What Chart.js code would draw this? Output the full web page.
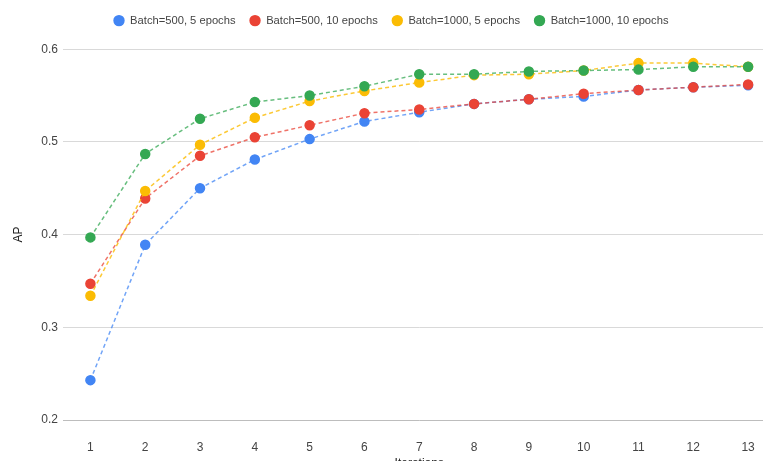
<!DOCTYPE html>
<html>
<head>
<meta charset="utf-8">
<script src="https://cdn.jsdelivr.net/npm/chart.js@4/dist/chart.umd.min.js"></script>
<style>
  html, body { margin: 0; padding: 0; background: #fff; }
  #wrap { width: 763px; height: 461px; overflow: hidden; }
</style>
</head>
<body>
<div id="wrap"><canvas id="myChart" width="782" height="476"></canvas></div>
<script>
const iterations = ['1','2','3','4','5','6','7','8','9','10','11','12','13'];
const seriesNames = ['Batch=500, 5 epochs','Batch=500, 10 epochs','Batch=1000, 5 epochs','Batch=1000, 10 epochs'];
const b500e5  = [0.243,0.389,0.450,0.481,0.503,0.522,0.532,0.541,0.546,0.549,0.556,0.559,0.561];
const b500e10 = [0.347,0.439,0.485,0.505,0.518,0.531,0.535,0.541,0.546,0.552,0.556,0.559,0.562];
const b1000e5 = [0.334,0.447,0.497,0.526,0.544,0.555,0.564,0.572,0.573,0.577,0.585,0.585,0.581];
const b1000e10= [0.397,0.487,0.525,0.543,0.550,0.560,0.573,0.573,0.576,0.577,0.578,0.581,0.581];
const yTicks = [0.2,0.3,0.4,0.5,0.6];

const colors = ['#4285F4','#EA4335','#FBBC04','#34A853'];
const lineColors = ['rgba(66,133,244,0.75)','rgba(234,67,53,0.75)','rgba(251,188,4,0.8)','rgba(52,168,83,0.75)'];
const allData = [b500e5, b500e10, b1000e5, b1000e10];

const ctx = document.getElementById('myChart').getContext('2d');

// push the plot area down a bit below the legend
const legendGap = {
  id: 'legendGap',
  beforeInit(chart) {
    const fit = chart.legend.fit;
    chart.legend.fit = function () {
      fit.bind(chart.legend)();
      this.height += 13;
    };
  }
};

const myChart = new Chart(ctx, {
  type: 'line',
  data: {
    labels: iterations,
    datasets: allData.map(function (d, i) {
      return {
        label: seriesNames[i],
        data: d,
        borderColor: lineColors[i],
        backgroundColor: colors[i],
        pointBackgroundColor: colors[i],
        pointBorderColor: colors[i],
        pointRadius: 4.5,
        pointHoverRadius: 5,
        borderWidth: 1.5,
        borderDash: [4, 3],
        tension: 0,
        fill: false,
        order: 4 - i
      };
    })
  },
  options: {
    responsive: false,
    animation: false,
    layout: { padding: { top: 1 } },
    plugins: {
      legend: {
        position: 'top',
        labels: {
          usePointStyle: true,
          pointStyle: 'circle',
          boxWidth: 11,
          boxHeight: 7,
          padding: 14,
          color: '#444',
          font: { family: 'Liberation Sans, Arial', size: 11.2 },
          sort: function (a, b) { return a.datasetIndex - b.datasetIndex; }
        }
      },
      tooltip: { enabled: false }
    },
    scales: {
      x: {
        offset: true,
        afterFit: function (scale) { scale.height = 56; },
        grid: { display: false, drawTicks: false },
        border: { display: false },
        ticks: { color: '#444', padding: 20, font: { family: 'Liberation Sans, Arial', size: 12 } },
        title: { display: true, text: 'Iterations', color: '#222', padding: { top: 0, bottom: 5 }, font: { family: 'Liberation Sans, Arial', size: 12 } }
      },
      y: {
        min: 0.2,
        max: 0.6,
        afterFit: function (scale) { scale.width = 63; },
        afterBuildTicks: function (scale) { scale.ticks = yTicks.map(function (v) { return { value: v }; }); },
        grid: {
          drawTicks: false,
          color: function (c) { return c.tick && c.tick.value === 0.2 ? '#bdbdbd' : '#d9d9d9'; },
          lineWidth: 1
        },
        border: { display: false },
        ticks: {
          color: '#444',
          padding: 5,
          font: { family: 'Liberation Sans, Arial', size: 12 },
          callback: function (v) { return v.toFixed(1); }
        },
        title: { display: true, text: 'AP', color: '#222', padding: { top: 11, bottom: 0 }, font: { family: 'Liberation Sans, Arial', size: 12 } }
      }
    }
  },
  plugins: [legendGap]
});
</script>
</body>
</html>
